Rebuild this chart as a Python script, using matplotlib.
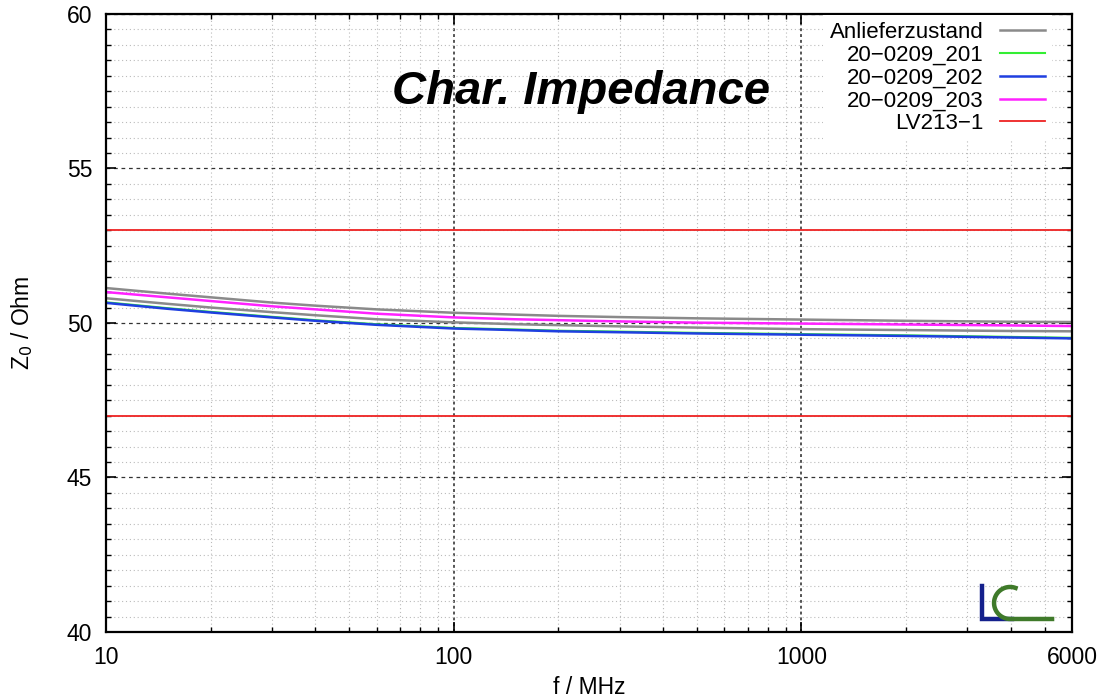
import numpy as np
import matplotlib.pyplot as plt
from matplotlib.ticker import FixedLocator, MultipleLocator, LogLocator, NullFormatter

plt.rcParams['font.family'] = ['Liberation Sans', 'DejaVu Sans']

freq = [10, 15, 20, 30, 40, 60, 100, 150, 200, 300, 500, 1000, 2000, 4000, 6000]
anliefer_a = [51.13, 50.95, 50.83, 50.66, 50.56, 50.44, 50.33, 50.27, 50.23, 50.19, 50.15, 50.11, 50.07, 50.04, 50.03]
anliefer_b = [50.80, 50.62, 50.50, 50.35, 50.25, 50.12, 50.02, 49.96, 49.93, 49.89, 49.85, 49.80, 49.77, 49.74, 49.73]
z_201 = [50.67, 50.48, 50.36, 50.20, 50.09, 49.96, 49.84, 49.79, 49.75, 49.72, 49.68, 49.64, 49.60, 49.55, 49.52]
z_202 = [50.65, 50.46, 50.34, 50.18, 50.07, 49.94, 49.82, 49.77, 49.73, 49.70, 49.66, 49.62, 49.58, 49.53, 49.50]
z_203 = [51.00, 50.83, 50.71, 50.54, 50.44, 50.30, 50.18, 50.12, 50.09, 50.05, 50.01, 49.98, 49.95, 49.92, 49.90]
lv_limits = [53, 47]

fig = plt.figure(figsize=(11.01, 6.98), dpi=100)
ax = fig.add_axes([0.0963, 0.0946, 0.8774, 0.8854])

ax.plot(freq, anliefer_a, color='#8a8a8a', lw=1.8, label='Anlieferzustand')
ax.plot(freq, anliefer_b, color='#8a8a8a', lw=1.8)
ax.plot(freq, z_201, color='#33ee33', lw=1.5, label='20\u22120209_201')
ax.plot(freq, z_202, color='#1f3fe0', lw=1.8, label='20\u22120209_202')
ax.plot(freq, z_203, color='#ff22ff', lw=1.8, label='20\u22120209_203')
for i, lim in enumerate(lv_limits):
    ax.axhline(lim, color='#ee2222', lw=1.3, label='LV213\u22121' if i == 0 else None)

ax.set_xscale('log')
ax.set_xlim(10, 6000)
ax.set_ylim(40, 60)
ax.xaxis.set_major_locator(FixedLocator([10, 100, 1000, 6000]))
ax.set_xticklabels(['10', '100', '1000', '6000'])
ax.xaxis.set_minor_locator(LogLocator(base=10, subs=np.arange(2, 10)))
ax.xaxis.set_minor_formatter(NullFormatter())
ax.yaxis.set_major_locator(MultipleLocator(5))
ax.yaxis.set_minor_locator(MultipleLocator(0.5))

ax.tick_params(which='both', direction='in', top=True, right=True, labelsize=16.5, pad=10)
ax.tick_params(which='major', length=7, width=1.2)
ax.tick_params(which='minor', length=3.5, width=1)
for s in ax.spines.values():
    s.set_linewidth(1.6)

ax.grid(which='major', axis='y', color='#333333', ls=(0, (3, 3)), lw=0.9)
ax.grid(which='major', axis='x', color='#555555', ls=(0, (1.5, 1.5)), lw=1.4)
ax.grid(which='minor', color='#bbbbbb', ls=(0, (1, 2.5)), lw=0.8)
ax.set_axisbelow(True)

ax.set_xlabel('f / MHz', fontsize=16.5, va='center')
ax.xaxis.set_label_coords(0.5, -56 / 618)
ax.set_ylabel('Z$_0$ / Ohm', fontsize=16.5, va='center')
ax.yaxis.set_label_coords(-84 / 966, 0.5)

ax.text(0.4917, 0.874, 'Char. Impedance', transform=ax.transAxes, ha='center', va='center',
        fontsize=34, fontweight='bold', fontstyle='italic')

leg = ax.legend(loc='upper right', bbox_to_anchor=(1 - 16 / 966, 1 + 3 / 618),
                markerfirst=False, fontsize=16, frameon=True,
                fancybox=False, edgecolor='none', framealpha=1, labelspacing=0.08,
                handlelength=2.0, handletextpad=0.75, borderaxespad=0.2, borderpad=0.3)
for t in leg.get_texts():
    t.set_ha('right')

# LC Logo
lax = fig.add_axes([0.8856, 0.1046, 0.0754, 0.0645])
lax.set_xlim(0, 83)
lax.set_ylim(45, 0)
lax.axis('off')
lax.plot([7, 7, 37], [6, 39, 39], color='#14208c', lw=3.2, solid_joinstyle='miter')
th = np.radians(np.linspace(70, 270, 60))
cx = np.r_[35 + 16 * np.cos(th), 77]
cy = np.r_[23 - 16 * np.sin(th), 39]
lax.plot(cx, cy, color='#3f7a2a', lw=3.2)

fig.savefig('out.png', dpi=100)
